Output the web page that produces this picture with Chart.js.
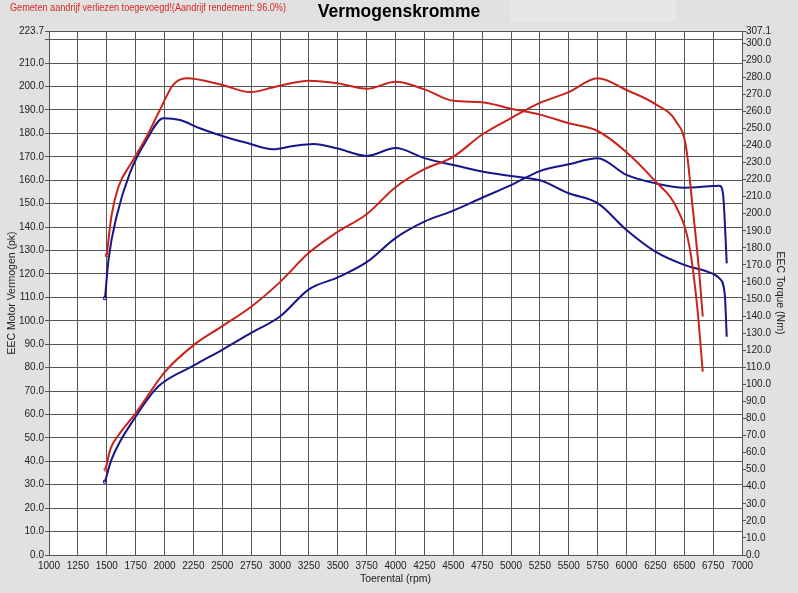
<!DOCTYPE html>
<html>
<head>
<meta charset="utf-8">
<script src="https://cdn.jsdelivr.net/npm/chart.js@4.4.1/dist/chart.umd.min.js"></script>
<style>
  body { margin: 0; background: #e1e1e1; }
  canvas { display: block; }
</style>
</head>
<body>
<canvas id="c1" width="798" height="593"></canvas>
<script>
// red run: power (pk) and torque (Nm)
var redPowerRpm = [1490, 1530, 1600, 1750, 2000, 2250, 2500, 2750, 3000, 3250, 3500, 3750, 4000, 4250, 4500, 4750, 5000, 5250, 5500, 5750, 6000, 6250, 6430, 6515, 6575, 6630, 6660];
var redPower = [36.5, 45, 51, 60.5, 78, 89.5, 97.7, 106, 116.5, 129, 138, 145.5, 157, 164.7, 170, 179.5, 186.5, 193, 197.6, 203.5, 198.5, 192.5, 185, 174.3, 147.3, 120.3, 101.8];

var redTorqueRpm = [1500, 1540, 1600, 1730, 1845, 1960, 2075, 2190, 2500, 2740, 2970, 3250, 3500, 3750, 4000, 4250, 4500, 4750, 5000, 5250, 5500, 5750, 6000, 6250, 6430, 6545, 6615, 6660];
var redTorque = [175.7, 198.4, 215.5, 231.6, 245.2, 260.8, 275.5, 279.4, 275.5, 271.3, 274.6, 278, 276.5, 273.2, 277.3, 272.9, 266.2, 265.4, 261.5, 258.1, 253, 248.5, 236.1, 219, 204.1, 180.7, 143.6, 107.5];

// blue run
var bluePowerRpm = [1485, 1540, 1750, 1945, 2250, 2500, 2750, 3000, 3250, 3500, 3750, 4000, 4250, 4500, 4750, 5000, 5250, 5500, 5750, 6000, 6250, 6500, 6750, 6805, 6835, 6868];
var bluePower = [31.3, 40.6, 59, 71.9, 80.8, 87.6, 94.8, 101.8, 113.4, 118.5, 125, 135.3, 142.3, 147, 152.5, 157.9, 163.9, 166.8, 169.4, 162.3, 158.7, 156.8, 157.5, 157.6, 154.4, 124.5];

var blueTorqueRpm = [1485, 1515, 1585, 1700, 1845, 1990, 2135, 2305, 2500, 2710, 2940, 3115, 3290, 3500, 3750, 4000, 4250, 4500, 4750, 5000, 5250, 5500, 5750, 6000, 6250, 6500, 6750, 6805, 6850, 6868];
var blueTorque = [150.5, 173, 198.4, 223.8, 243.3, 256, 254.9, 250.1, 245.6, 241.6, 237.8, 239.7, 240.9, 238.2, 233.9, 238.5, 232.6, 228.6, 224.7, 222.1, 219.6, 212, 206.2, 190.5, 177.8, 170, 164.7, 162.1, 153.3, 127.9];

// axes
var powerTicks = [0, 10, 20, 30, 40, 50, 60, 70, 80, 90, 100, 110, 120, 130, 140, 150, 160, 170, 180, 190, 200, 210, 220, 223.7];
var torqueTicks = [0, 10, 20, 30, 40, 50, 60, 70, 80, 90, 100, 110, 120, 130, 140, 150, 160, 170, 180, 190, 200, 210, 220, 230, 240, 250, 260, 270, 280, 290, 300, 307.1];

var titleText = 'Vermogenskromme';
var noteText = 'Gemeten aandrijf verliezen toegevoegd!(Aandrijf rendement: 96.0%)';

var RED = '#c8241c';
var BLUE = '#16168a';
var FONT = "'Liberation Sans', Arial, sans-serif";
var TICK = { family: FONT, size: 10 };

function pairs(xs, ys) {
	var out = [];
	for (var i = 0; i < xs.length; i++) {
		out.push({ x: xs[i], y: ys[i] });
	}
	return out;
}

function lineSet(label, xs, ys, color, axis) {
	return {
		label: label,
		data: pairs(xs, ys),
		yAxisID: axis,
		borderColor: color,
		backgroundColor: color,
		borderWidth: 2,
		cubicInterpolationMode: 'monotone',
		pointStyle: 'rect',
		pointRadius: function(c) { return c.dataIndex === 0 ? 2 : 0; },
		pointBorderWidth: 1,
		pointBackgroundColor: 'rgba(0,0,0,0)',
		fill: false
	};
}

var bgPlugin = {
	id: 'bg',
	beforeDraw: function(chart) {
		var ctx = chart.ctx, a = chart.chartArea;
		ctx.save();
		ctx.fillStyle = '#e1e1e1';
		ctx.fillRect(0, 0, chart.width, chart.height);
		ctx.fillStyle = '#e8e6e8';
		ctx.fillRect(510, 0, 166, 22);
		ctx.fillStyle = '#ffffff';
		ctx.fillRect(a.left, a.top, a.right - a.left, a.bottom - a.top);
		ctx.restore();
	},
	afterDraw: function(chart) {
		var ctx = chart.ctx;
		ctx.save();
		ctx.textBaseline = 'middle';
		ctx.fillStyle = '#d42a22';
		ctx.font = '10px ' + FONT;
		ctx.textAlign = 'left';
		ctx.fillText(noteText, 10, 8, 276);
		ctx.fillStyle = '#000';
		ctx.font = 'bold 17.5px ' + FONT;
		ctx.textAlign = 'center';
		ctx.fillText(titleText, 399, 12);
		ctx.restore();
	}
};

var c = document.getElementById('c1');
new Chart(c, {
	type: 'line',
	data: {
		datasets: [
			lineSet('Vermogen 1', redPowerRpm, redPower, RED, 'yP'),
			lineSet('Koppel 1', redTorqueRpm, redTorque, RED, 'yT'),
			lineSet('Vermogen 2', bluePowerRpm, bluePower, BLUE, 'yP'),
			lineSet('Koppel 2', blueTorqueRpm, blueTorque, BLUE, 'yT')
		]
	},
	options: {
		responsive: false,
		animation: false,
		layout: { padding: { top: 31, left: 0, right: 0, bottom: 0 } },
		plugins: {
			legend: { display: false },
			tooltip: { enabled: false }
		},
		scales: {
			x: {
				type: 'linear',
				min: 1000,
				max: 7000,
				afterBuildTicks: function(s) {
					var t = [];
					for (var v = 1000; v <= 7000; v += 250) t.push({ value: v });
					s.ticks = t;
				},
				ticks: {
					autoSkip: false,
					maxRotation: 0,
					padding: 5,
					color: '#222',
					font: TICK,
					callback: function(v) { return String(v); }
				},
				grid: { color: '#555', lineWidth: 1, tickLength: 0 },
				border: { color: '#555' },
				title: {
					display: true,
					text: 'Toerental (rpm)',
					color: '#222',
					font: { family: FONT, size: 10.5 },
					padding: { top: 2, bottom: 8 }
				},
				afterFit: function(s) { s.height = 38; }
			},
			yP: {
				type: 'linear',
				position: 'left',
				min: 0,
				max: 223.7,
				afterBuildTicks: function(s) {
					s.ticks = powerTicks.map(function(v) { return { value: v }; });
				},
				ticks: {
					autoSkip: false,
					padding: 1,
					color: '#222',
					font: TICK,
					callback: function(v) { return v === 220 ? '' : v.toFixed(1); }
				},
				grid: { color: '#555', lineWidth: 1, tickLength: 4 },
				border: { color: '#555' },
				title: {
					display: true,
					text: 'EEC Motor Vermogen (pk)',
					color: '#222',
					font: { family: FONT, size: 10.5 },
					padding: { top: 6, bottom: 0 }
				},
				afterFit: function(s) { s.width = 49; }
			},
			yT: {
				type: 'linear',
				position: 'right',
				min: 0,
				max: 307.1,
				afterBuildTicks: function(s) {
					s.ticks = torqueTicks.map(function(v) { return { value: v }; });
				},
				ticks: {
					autoSkip: false,
					padding: 0,
					color: '#222',
					font: TICK,
					callback: function(v) { return v.toFixed(1); }
				},
				grid: { drawOnChartArea: false, color: '#555', tickLength: 4 },
				border: { color: '#555' },
				title: {
					display: true,
					text: 'EEC Torque (Nm)',
					color: '#222',
					font: { family: FONT, size: 10.5 },
					padding: { top: 12, bottom: 0 }
				},
				afterFit: function(s) { s.width = 56; }
			}
		}
	},
	plugins: [bgPlugin]
});
</script>
</body>
</html>
